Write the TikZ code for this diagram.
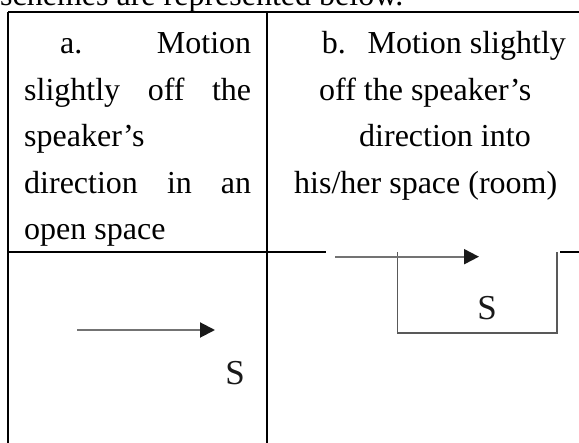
\documentclass[tikz,border=0pt]{standalone}
\usepackage{fontspec}
\setmainfont{Liberation Serif}
\usetikzlibrary{arrows.meta}
\begin{document}
\begin{tikzpicture}[x=1pt,y=-1pt,
  txt/.style={inner sep=0pt,anchor=base west,font=\fontsize{32}{38}\selectfont},
  tblline/.style={line width=2pt,black},
  roomline/.style={line width=1.6pt,black!65},
  motion/.style={line width=2pt,black!55,-{Triangle[length=15pt,width=15pt,color=black!90,fill=black!90]}},
  spk/.style={inner sep=0pt,anchor=base,text=black!90,font=\fontsize{35}{38}\selectfont}]
\useasboundingbox (0,0) rectangle (579,443);
\begin{scope}
\clip (0,0) rectangle (579,443);
% text above the table, cut off by the top edge
\node[txt] (intro) at (0,6) {schemes are represented below.};
% table rules
\coordinate (tl) at (8,12.5);
\coordinate (tr) at (579,12.5);
\coordinate (ml) at (8,252.5);
\coordinate (mm) at (326,252.5);
\coordinate (mr) at (560,252.5);
\coordinate (mre) at (579,252.5);
\coordinate (lb) at (8,443);
\coordinate (ct) at (267,12.5);
\coordinate (cb) at (267,443);
\draw[tblline] (tl) -- (tr);
\draw[tblline] (tl) -- (lb);
\draw[tblline] (ct) -- (cb);
\draw[tblline] (ml) -- (mm);
\draw[tblline] (mr) -- (mre);
% cell a text
\node[txt] (a1) at (60,54) {\makebox[191pt][s]{a. Motion}};
\node[txt] (a2) at (24,100.5) {\makebox[227pt][s]{slightly off the}};
\node[txt] (a3) at (24,147) {speaker’s};
\node[txt] (a4) at (24,193.5) {\makebox[227pt][s]{direction in an}};
\node[txt] (a5) at (24,240) {open space};
% cell b text
\node[txt] (b1) at (321.7,54) {b.\hspace{0.68em}Motion slightly};
\node[txt] (b2) at (319,100.5) {off the speaker’s};
\node[txt] (b3) at (359,147) {direction into};
\node[txt] (b4) at (294,193.5) {his/her space (room)};
% scheme a
\coordinate (aS) at (77,330);
\coordinate (aE) at (215,330);
\draw[motion] (aS) -- (aE);
\node[spk] (sa) at (235,385) {S};
% scheme b: room open at the top
\coordinate (rtl) at (397.5,252.5);
\coordinate (rbl) at (397.5,333.3);
\coordinate (rbr) at (556.7,333.3);
\coordinate (rtr) at (556.7,252.5);
\draw[roomline] (rtl) -- (rbl) -- (rbr) -- (rtr);
\coordinate (bS) at (335,256.7);
\coordinate (bE) at (479,256.7);
\draw[motion] (bS) -- (bE);
\node[spk] (sb) at (487,320) {S};
\end{scope}
\end{tikzpicture}
\end{document}
